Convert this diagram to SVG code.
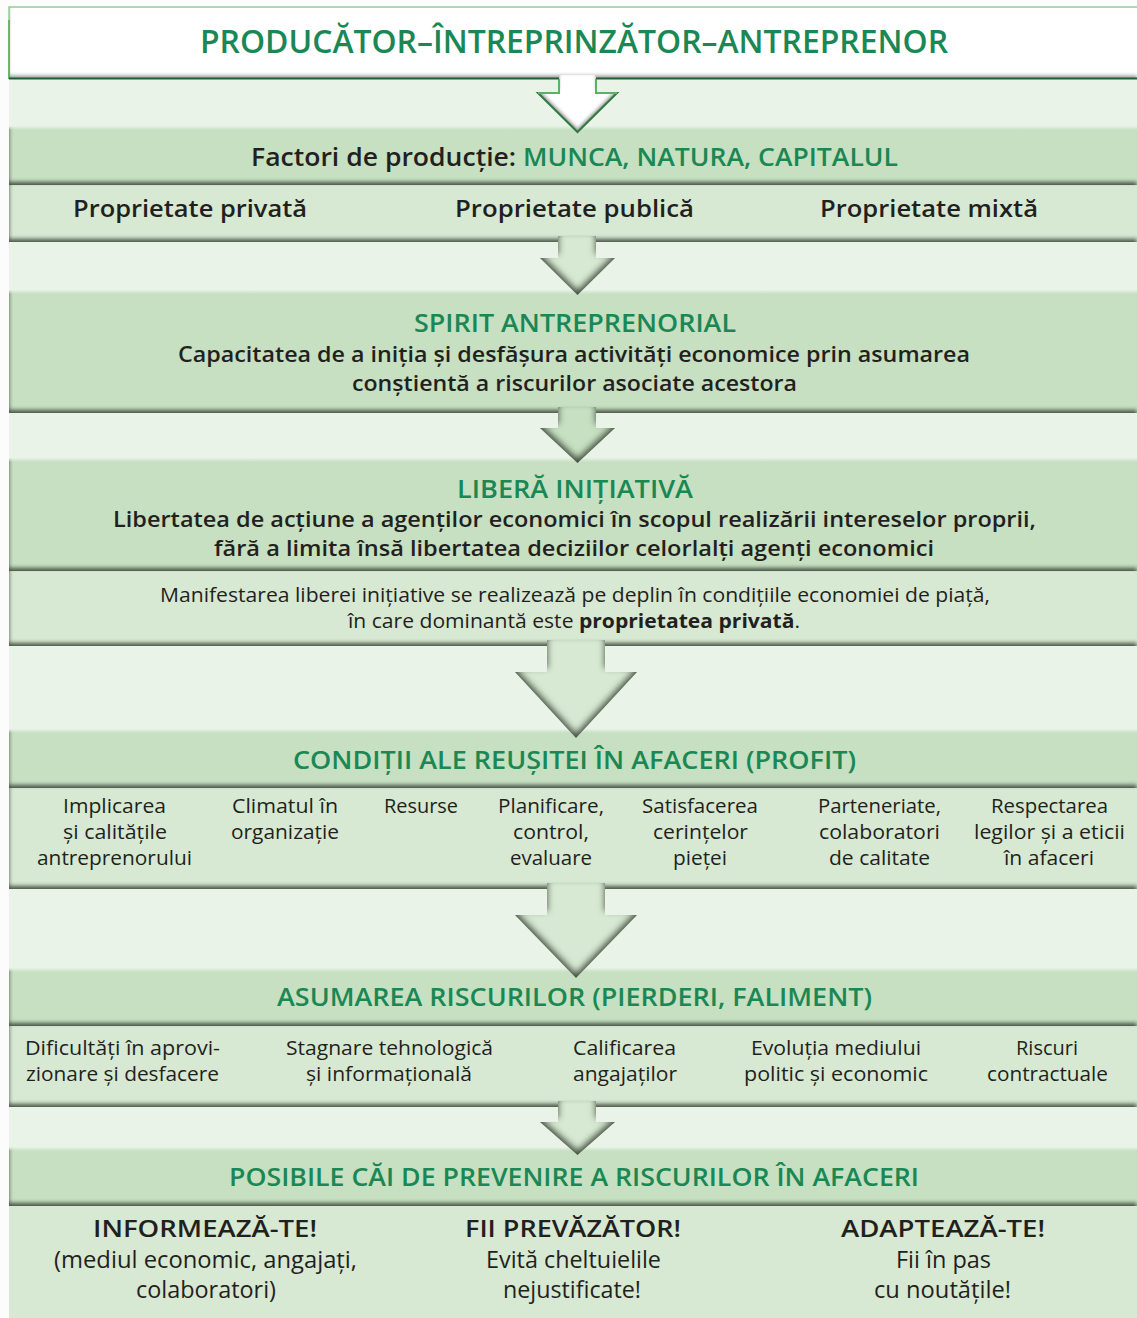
<svg xmlns="http://www.w3.org/2000/svg" width="1137" height="1318" viewBox="0 0 1137 1318">
<style>
text{font-family:"Open Sans","Noto Sans","Liberation Sans",sans-serif;text-anchor:middle}
.h{fill:#1a8754;font-weight:600;font-size:26px}
.t{fill:#1a8754;font-weight:600;font-size:32px}
.d{fill:#231f20;font-weight:600;font-size:22px}
.p{fill:#231f20;font-weight:600;font-size:24px}
.r{fill:#231f20;font-weight:400;font-size:20px}
.b{fill:#231f20;font-weight:400;font-size:23px}
.g{fill:#1a8754}
.hb{fill:#c6e0c1}
.sb{fill:#d7e9d2}
</style>
<defs>
<filter id="ins" filterUnits="userSpaceOnUse" x="0" y="0" width="1137" height="1318" color-interpolation-filters="sRGB">
<feComponentTransfer in="SourceAlpha" result="inv"><feFuncA type="table" tableValues="1 0"/></feComponentTransfer>
<feOffset in="inv" dy="-3" result="off"/>
<feGaussianBlur in="off" stdDeviation="2.2 2" result="blur"/>
<feFlood flood-color="#354033" flood-opacity="0.88" result="col"/>
<feComposite in="col" in2="blur" operator="in" result="sh"/>
<feComposite in="sh" in2="SourceAlpha" operator="in" result="ish"/>
<feMerge><feMergeNode in="SourceGraphic"/><feMergeNode in="ish"/></feMerge>
</filter>
<filter id="insa" filterUnits="userSpaceOnUse" x="0" y="0" width="1137" height="1318" color-interpolation-filters="sRGB">
<feComponentTransfer in="SourceAlpha" result="inv"><feFuncA type="table" tableValues="1 0"/></feComponentTransfer>
<feOffset in="inv" dy="-4" result="off"/>
<feGaussianBlur in="off" stdDeviation="3.5 3" result="blur"/>
<feFlood flood-color="#354033" flood-opacity="0.92" result="col"/>
<feComposite in="col" in2="blur" operator="in" result="sh"/>
<feComposite in="sh" in2="SourceAlpha" operator="in" result="ish"/>
<feMerge><feMergeNode in="SourceGraphic"/><feMergeNode in="ish"/></feMerge>
</filter>
<filter id="insw" filterUnits="userSpaceOnUse" x="0" y="0" width="1137" height="1318" color-interpolation-filters="sRGB">
<feComponentTransfer in="SourceAlpha" result="inv"><feFuncA type="table" tableValues="1 0"/></feComponentTransfer>
<feOffset in="inv" dy="-3" result="off"/>
<feGaussianBlur in="off" stdDeviation="1.5 2" result="blur"/>
<feFlood flood-color="#555" flood-opacity="0.7" result="col"/>
<feComposite in="col" in2="blur" operator="in" result="sh"/>
<feComposite in="sh" in2="SourceAlpha" operator="in" result="ish"/>
<feMerge><feMergeNode in="SourceGraphic"/><feMergeNode in="ish"/></feMerge>
</filter>
<linearGradient id="soft" x1="0" y1="0" x2="0" y2="1">
<stop offset="0" stop-color="#e9f3e7"/>
<stop offset="1" stop-color="#e9f3e7" stop-opacity="0"/>
</linearGradient>
</defs>
<rect width="1137" height="1318" fill="#fbfcfb"/>
<rect x="9" y="79" width="1128" height="1239" fill="#e9f3e7"/>

<g id="title">
<rect x="9" y="7" width="1130" height="72" fill="#ffffff" filter="url(#insw)"/>
<path d="M9,79 V7 H1137" fill="none" stroke="#8fcf92" stroke-width="1.5"/>
<path d="M9,79 V20" fill="none" stroke="#4fae5b" stroke-width="1.5"/>
<line x1="9" y1="78.5" x2="1137" y2="78.5" stroke="#245f34" stroke-width="2"/>
<text class="t" x="574" y="53" textLength="748" lengthAdjust="spacingAndGlyphs">PRODUCĂTOR–ÎNTREPRINZĂTOR–ANTREPRENOR</text>
</g>

<g id="factori">
<rect class="hb" x="9" y="126" width="1131" height="59" filter="url(#ins)"/>
<rect x="9" y="126" width="1128" height="4" fill="url(#soft)"/>
<text class="d" x="574.5" y="166" style="font-size:25px" textLength="647" lengthAdjust="spacingAndGlyphs">Factori de producție: <tspan class="g">MUNCA, NATURA, CAPITALUL</tspan></text>
</g>

<g id="proprietate">
<rect class="sb" x="9" y="185" width="1131" height="57" filter="url(#ins)"/>
<text class="p" x="190" y="217" textLength="234" lengthAdjust="spacingAndGlyphs">Proprietate privată</text>
<text class="p" x="574.5" y="217" textLength="239" lengthAdjust="spacingAndGlyphs">Proprietate publică</text>
<text class="p" x="929" y="217" textLength="218" lengthAdjust="spacingAndGlyphs">Proprietate mixtă</text>
</g>

<g id="spirit">
<rect class="hb" x="9" y="290" width="1131" height="123" filter="url(#ins)"/>
<rect x="9" y="290" width="1128" height="4" fill="url(#soft)"/>
<text class="h" x="575" y="332" textLength="322" lengthAdjust="spacingAndGlyphs">SPIRIT ANTREPRENORIAL</text>
<text class="d" x="574" y="362" textLength="792" lengthAdjust="spacingAndGlyphs">Capacitatea de a iniția și desfășura activități economice prin asumarea</text>
<text class="d" x="574.5" y="391" textLength="445" lengthAdjust="spacingAndGlyphs">conștientă a riscurilor asociate acestora</text>
</g>

<g id="libera">
<rect class="hb" x="9" y="458" width="1131" height="113" filter="url(#ins)"/>
<rect x="9" y="458" width="1128" height="4" fill="url(#soft)"/>
<text class="h" x="575" y="498" textLength="236" lengthAdjust="spacingAndGlyphs">LIBERĂ INIȚIATIVĂ</text>
<text class="d" x="574.5" y="527" textLength="923" lengthAdjust="spacingAndGlyphs">Libertatea de acțiune a agenților economici în scopul realizării intereselor proprii,</text>
<text class="d" x="574" y="556" textLength="720" lengthAdjust="spacingAndGlyphs">fără a limita însă libertatea deciziilor celorlalți agenți economici</text>
</g>

<g id="manifestarea">
<rect class="sb" x="9" y="571" width="1131" height="75" filter="url(#ins)"/>
<text class="r" x="575" y="602" textLength="830" lengthAdjust="spacingAndGlyphs">Manifestarea liberei inițiative se realizează pe deplin în condițiile economiei de piață,</text>
<text class="r" x="574" y="628" textLength="452" lengthAdjust="spacingAndGlyphs">în care dominantă este <tspan font-weight="700">proprietatea privată</tspan>.</text>
</g>

<g id="conditii">
<rect class="hb" x="9" y="729" width="1131" height="59" filter="url(#ins)"/>
<rect x="9" y="729" width="1128" height="4" fill="url(#soft)"/>
<text class="h" x="574.5" y="769" textLength="563" lengthAdjust="spacingAndGlyphs">CONDIȚII ALE REUȘITEI ÎN AFACERI (PROFIT)</text>
</g>

<g id="conditii-lista">
<rect class="sb" x="9" y="788" width="1131" height="101" filter="url(#ins)"/>
<text class="r" x="114.5" y="813" textLength="103" lengthAdjust="spacingAndGlyphs">Implicarea</text>
<text class="r" x="115" y="839" textLength="104" lengthAdjust="spacingAndGlyphs">și calitățile</text>
<text class="r" x="114.5" y="865" textLength="155" lengthAdjust="spacingAndGlyphs">antreprenorului</text>
<text class="r" x="285" y="813" textLength="106" lengthAdjust="spacingAndGlyphs">Climatul în</text>
<text class="r" x="285" y="839" textLength="108" lengthAdjust="spacingAndGlyphs">organizație</text>
<text class="r" x="421" y="813" textLength="74" lengthAdjust="spacingAndGlyphs">Resurse</text>
<text class="r" x="551" y="813" textLength="106" lengthAdjust="spacingAndGlyphs">Planificare,</text>
<text class="r" x="551" y="839" textLength="76" lengthAdjust="spacingAndGlyphs">control,</text>
<text class="r" x="551" y="865" textLength="82" lengthAdjust="spacingAndGlyphs">evaluare</text>
<text class="r" x="700" y="813" textLength="116" lengthAdjust="spacingAndGlyphs">Satisfacerea</text>
<text class="r" x="700.5" y="839" textLength="95" lengthAdjust="spacingAndGlyphs">cerințelor</text>
<text class="r" x="700" y="865" textLength="54" lengthAdjust="spacingAndGlyphs">pieței</text>
<text class="r" x="879.5" y="813" textLength="123" lengthAdjust="spacingAndGlyphs">Parteneriate,</text>
<text class="r" x="879.5" y="839" textLength="121" lengthAdjust="spacingAndGlyphs">colaboratori</text>
<text class="r" x="879.5" y="865" textLength="101" lengthAdjust="spacingAndGlyphs">de calitate</text>
<text class="r" x="1049.5" y="813" textLength="117" lengthAdjust="spacingAndGlyphs">Respectarea</text>
<text class="r" x="1049.5" y="839" textLength="151" lengthAdjust="spacingAndGlyphs">legilor și a eticii</text>
<text class="r" x="1049" y="865" textLength="90" lengthAdjust="spacingAndGlyphs">în afaceri</text>
</g>

<g id="asumarea">
<rect class="hb" x="9" y="968" width="1131" height="58" filter="url(#ins)"/>
<rect x="9" y="968" width="1128" height="4" fill="url(#soft)"/>
<text class="h" x="574.5" y="1006" textLength="595" lengthAdjust="spacingAndGlyphs">ASUMAREA RISCURILOR (PIERDERI, FALIMENT)</text>
</g>

<g id="riscuri-lista">
<rect class="sb" x="9" y="1026" width="1131" height="81" filter="url(#ins)"/>
<text class="r" x="122.5" y="1055" textLength="195" lengthAdjust="spacingAndGlyphs">Dificultăți în aprovi-</text>
<text class="r" x="122.5" y="1081" textLength="193" lengthAdjust="spacingAndGlyphs">zionare și desfacere</text>
<text class="r" x="389.5" y="1055" textLength="207" lengthAdjust="spacingAndGlyphs">Stagnare tehnologică</text>
<text class="r" x="389" y="1081" textLength="166" lengthAdjust="spacingAndGlyphs">și informațională</text>
<text class="r" x="624.5" y="1055" textLength="103" lengthAdjust="spacingAndGlyphs">Calificarea</text>
<text class="r" x="625" y="1081" textLength="104" lengthAdjust="spacingAndGlyphs">angajaților</text>
<text class="r" x="836" y="1055" textLength="170" lengthAdjust="spacingAndGlyphs">Evoluția mediului</text>
<text class="r" x="836" y="1081" textLength="184" lengthAdjust="spacingAndGlyphs">politic și economic</text>
<text class="r" x="1047" y="1055" textLength="62" lengthAdjust="spacingAndGlyphs">Riscuri</text>
<text class="r" x="1047.5" y="1081" textLength="121" lengthAdjust="spacingAndGlyphs">contractuale</text>
</g>

<g id="posibile">
<rect class="hb" x="9" y="1147" width="1131" height="59" filter="url(#ins)"/>
<rect x="9" y="1147" width="1128" height="4" fill="url(#soft)"/>
<text class="h" x="574" y="1186" textLength="690" lengthAdjust="spacingAndGlyphs">POSIBILE CĂI DE PREVENIRE A RISCURILOR ÎN AFACERI</text>
</g>

<g id="prevenire">
<rect class="sb" x="9" y="1206" width="1131" height="112"/>
<text class="p" x="205" y="1237" textLength="224" lengthAdjust="spacingAndGlyphs">INFORMEAZĂ-TE!</text>
<text class="b" x="205.5" y="1268" textLength="303" lengthAdjust="spacingAndGlyphs">(mediul economic, angajați,</text>
<text class="b" x="206" y="1298" textLength="140" lengthAdjust="spacingAndGlyphs">colaboratori)</text>
<text class="p" x="573" y="1237" textLength="216" lengthAdjust="spacingAndGlyphs">FII PREVĂZĂTOR!</text>
<text class="b" x="573.5" y="1268" textLength="175" lengthAdjust="spacingAndGlyphs">Evită cheltuielile</text>
<text class="b" x="572" y="1298" textLength="138" lengthAdjust="spacingAndGlyphs">nejustificate!</text>
<text class="p" x="943" y="1237" textLength="204" lengthAdjust="spacingAndGlyphs">ADAPTEAZĂ-TE!</text>
<text class="b" x="943.5" y="1268" textLength="95" lengthAdjust="spacingAndGlyphs">Fii în pas</text>
<text class="b" x="942.5" y="1298" textLength="137" lengthAdjust="spacingAndGlyphs">cu noutățile!</text>
</g>

<g id="connectors">
<path d="M559,75 V93 H538 L577.5,132 L617,93 H596 V75 Z" fill="#ffffff" filter="url(#insw)"/>
<path d="M559,79.5 V93 H538 L577.5,132 L617,93 H596 V79.5" fill="none" stroke="#2f7a43" stroke-width="2" stroke-linejoin="miter"/>
<path d="M538,93 H559 V79.5 M596,79.5 V93 H617" fill="none" stroke="#58b463" stroke-width="2"/>
<path class="sb" d="M558,236 V258 H540 L577.5,295 L615,258 H596 V236 Z" filter="url(#insa)"/>
<path class="hb" d="M558,407 V428 H540 L577.5,463 L615,428 H596 V407 Z" filter="url(#insa)"/>
<path class="sb" d="M547,640 V672 H515 L576,738 L637,672 H605 V640 Z" filter="url(#insa)"/>
<path class="sb" d="M547,883 V915 H515 L576,978 L637,915 H605 V883 Z" filter="url(#insa)"/>
<path class="sb" d="M558,1101 V1122 H540 L577.5,1155 L615,1122 H596 V1101 Z" filter="url(#insa)"/>
</g>
</svg>
